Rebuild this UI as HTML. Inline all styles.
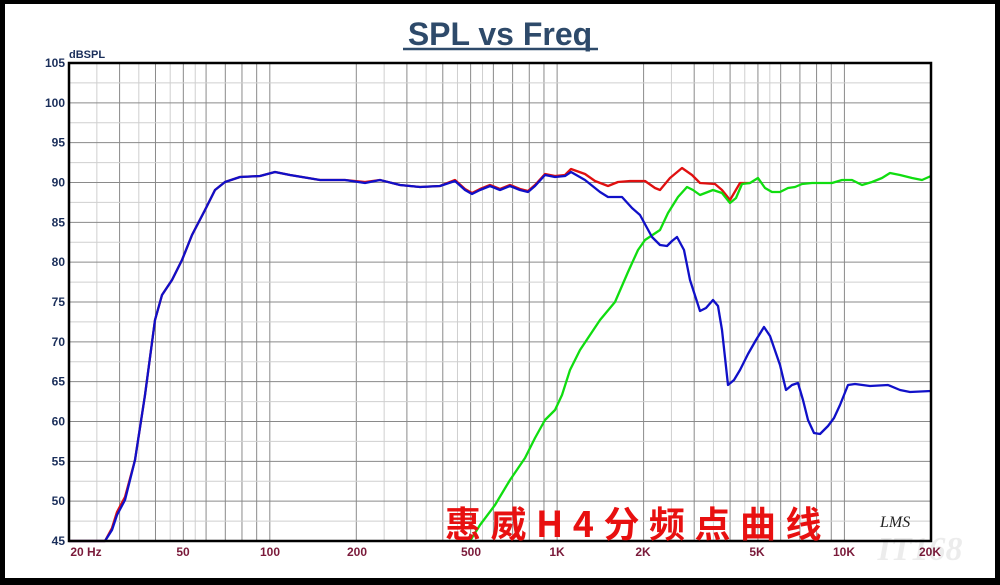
<!DOCTYPE html>
<html><head><meta charset="utf-8"><style>
html,body{margin:0;padding:0;background:#000}
#f{position:absolute;left:5px;top:4px;width:990px;height:574px;background:#fff}
svg{position:absolute;left:0;top:0}
</style></head><body>
<div id="f"></div>
<svg width="1000" height="585" xmlns="http://www.w3.org/2000/svg">
<g id="grid"></g>
<text x="500" y="45" text-anchor="middle" font-family="Liberation Sans" font-weight="bold" font-size="32" fill="#2e4a6a">SPL vs Freq</text>
<line x1="403" y1="49" x2="598" y2="49" stroke="#2e4a6a" stroke-width="2.5"/>
<text x="69" y="58" font-family="Liberation Sans" font-weight="bold" font-size="11" fill="#1a2e5a">dBSPL</text>
<g font-family="Liberation Sans" font-weight="bold" font-size="12" fill="#1a2e5a" text-anchor="end" id="yl"></g>
<g font-family="Liberation Sans" font-weight="bold" font-size="12" fill="#7a1a3a" text-anchor="middle">
<text x="86" y="556">20  Hz</text><text x="183" y="556">50</text><text x="270" y="556">100</text><text x="357" y="556">200</text><text x="471" y="556">500</text><text x="557" y="556">1K</text><text x="643" y="556">2K</text><text x="757" y="556">5K</text><text x="844" y="556">10K</text><text x="930" y="556">20K</text>
</g>
<g fill="none" stroke-width="2.3" stroke-linejoin="round">
<polyline stroke="#e01010" points="69,541 105,541 112,528 117,512 125,497 135,460 145,395 155,320 162,295 172,280 182,260 192,235 205,210 215,190 225,182 240,177 260,176 275,172 290,175 320,180 345,180 365,182 380,180 400,185 420,187 440,186 455,180 465,189 472,193 480,189 490,185 500,189 510,185 520,189 528,191 535,185 545,174 555,176 565,175 571,169 585,174 595,181 608,186 618,182 630,181 645,181 655,188 660,190 670,178 682,168 692,175 700,183 715,184 722,190 730,200 740,183 750,183"/>
<polyline stroke="#10dd10" points="470,541 480,525 495,505 510,480 525,458 535,438 545,420 555,410 562,395 570,370 580,350 592,332 600,320 615,302 628,272 638,250 645,240 660,230 668,213 678,197 687,187 693,190 700,195 713,190 722,193 730,203 736,198 742,184 750,183 758,178 765,188 772,192 780,192 788,188 795,187 802,184 812,183 822,183 832,183 842,180 852,180 862,185 872,182 882,178 890,173 900,175 912,178 922,180 931,176"/>
<polyline stroke="#1010c8" points="69,541 105,541 112,530 117,515 125,500 135,460 145,395 155,320 162,295 172,280 182,260 192,235 205,210 215,190 225,182 240,177 260,176 275,172 290,175 320,180 345,180 365,183 380,180 400,185 420,187 440,186 455,181 465,190 472,194 480,190 490,186 500,190 510,186 520,190 528,192 535,186 545,175 555,177 565,176 571,172 585,180 600,192 608,197 622,197 632,208 640,215 652,237 660,245 667,246 672,241 677,237 684,250 690,280 700,311 706,308 713,300 718,306 722,330 728,385 734,380 740,370 748,354 756,340 764,327 770,336 780,365 786,390 792,385 798,383 803,400 808,420 814,433 820,434 828,426 834,418 840,405 848,385 855,384 870,386 888,385 900,390 910,392 931,391"/>
</g>
<rect x="69" y="63" width="862" height="478" fill="none" stroke="#000" stroke-width="2.5"/>
<text x="445" y="537" font-family="'Noto Sans CJK SC',sans-serif" font-weight="bold" font-size="36" fill="#e81010" letter-spacing="9.5">惠威H4分频点曲线</text>
<text x="880" y="527" font-family="Liberation Serif" font-style="italic" font-size="16" fill="#222">LMS</text>
<text x="920" y="560" text-anchor="middle" font-family="Liberation Serif" font-style="italic" font-weight="bold" font-size="34" fill="#000" opacity="0.07">IT168</text>
</svg>
<script>
var g=document.getElementById('grid'),ns='http://www.w3.org/2000/svg';
function L(x1,y1,x2,y2,c){var l=document.createElementNS(ns,'line');l.setAttribute('x1',x1);l.setAttribute('y1',y1);l.setAttribute('x2',x2);l.setAttribute('y2',y2);l.setAttribute('stroke',c);l.setAttribute('stroke-width',1);g.appendChild(l);}
function X(f){return 69+287.3*Math.log10(f/20);}
for(var d=10;d<=10000;d*=10){for(var m=1;m<10;m++){var f=d*m;if(f>20&&f<20000)L(X(f),63,X(f),541,'#8a8a8a');}
[2.5,3.5,4.5,5.5].forEach(function(m){var f=d*m;if(f>20&&f<20000)L(X(f),63,X(f),541,'#cfcfcf');});}
var yl=document.getElementById('yl');
for(var v=45;v<=105;v+=2.5){var y=541-(v-45)*7.967;L(69,y,931,y,(v%5==0)?'#8a8a8a':'#cfcfcf');
if(v%5==0){var t=document.createElementNS(ns,'text');t.setAttribute('x',65);t.setAttribute('y',y+4);t.textContent=v;yl.appendChild(t);}}
</script>
</body></html>
